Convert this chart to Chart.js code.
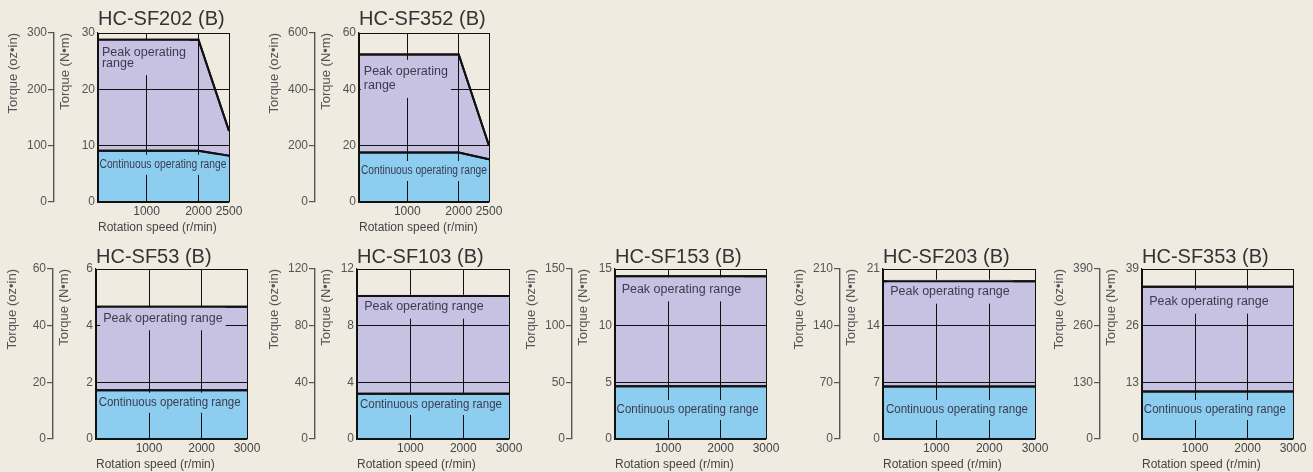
<!DOCTYPE html>
<html>
<head>
<meta charset="utf-8">
<script src="https://cdn.jsdelivr.net/npm/chart.js@4.4.1/dist/chart.umd.min.js"></script>
<style>
  html, body { margin: 0; padding: 0; background: #efebe1; width: 1313px; height: 472px; overflow: hidden; }
  canvas { position: absolute; }
</style>
</head>
<body>
<script>
// speeds (r/min) and x tick labels
const speedsTop = [0, 2000, 2500];
const speedsBottom = [0, 3000];
const xTicksTop = [0, 1000, 2000, 2500];
const xTicksBottom = [0, 1000, 2000, 3000];

// torque curves (N•m), plus the y tick labels of both axes
const sf202Peak = [28.8, 28.8, 12.6];
const sf202Cont = [9.1, 9.1, 8.2];
const sf202Nm = [0, 10, 20, 30];
const sf202Oz = [0, 100, 200, 300];

const sf352Peak = [52.4, 52.4, 20.0];
const sf352Cont = [17.6, 17.6, 15.2];
const sf352Nm = [0, 20, 40, 60];
const sf352Oz = [0, 200, 400, 600];

const sf53Peak = [4.67, 4.67];
const sf53Cont = [1.72, 1.72];
const sf53Nm = [0, 2, 4, 6];
const sf53Oz = [0, 20, 40, 60];

const sf103Peak = [10.1, 10.1];
const sf103Cont = [3.2, 3.2];
const sf103Nm = [0, 4, 8, 12];
const sf103Oz = [0, 40, 80, 120];

const sf153Peak = [14.35, 14.35];
const sf153Cont = [4.66, 4.66];
const sf153Nm = [0, 5, 10, 15];
const sf153Oz = [0, 50, 100, 150];

const sf203Peak = [19.5, 19.5];
const sf203Cont = [6.5, 6.5];
const sf203Nm = [0, 7, 14, 21];
const sf203Oz = [0, 70, 140, 210];

const sf353Peak = [34.9, 34.9];
const sf353Cont = [10.9, 10.9];
const sf353Nm = [0, 13, 26, 39];
const sf353Oz = [0, 130, 260, 390];

const PEAK_FILL = '#c7c2e1';
const CONT_FILL = '#8dcdf0';
const LINE = '#111';
const FONT = "'Liberation Sans', Arial, sans-serif";

// the speed axis in the original is drawn unevenly (last step is squeezed/stretched),
// so map values to the axis through fixed fractions of its width
class PiecewiseScale extends Chart.LinearScale {
  static id = 'piecewise';
  static defaults = Chart.LinearScale.defaults;
  getPixelForValue(value) {
    if (value === null || value === undefined) return NaN;
    const st = this.options.stops;
    let i = 1;
    while (i < st.length - 1 && value > st[i][0]) i++;
    const [v0, f0] = st[i - 1], [v1, f1] = st[i];
    return this.getPixelForDecimal(f0 + (value - v0) / (v1 - v0) * (f1 - f0));
  }
  getValueForPixel(pixel) {
    const st = this.options.stops;
    const f = this.getDecimalForPixel(pixel);
    let i = 1;
    while (i < st.length - 1 && f > st[i][1]) i++;
    const [v0, f0] = st[i - 1], [v1, f1] = st[i];
    return v0 + (f - f0) / (f1 - f0) * (v1 - v0);
  }
}
Chart.register(PiecewiseScale);

Chart.defaults.font.family = FONT;
Chart.defaults.font.size = 12;
Chart.defaults.color = '#555';

const stopsTop = [0, 0.371, 0.767, 1];
const stopsBottom = [0, 0.351, 0.699, 1];

// where each panel sits on the page (plot box + outer axis line)
const panels = [
  { title: 'HC-SF202 (B)', speeds: speedsTop, peak: sf202Peak, cont: sf202Cont, nm: sf202Nm, oz: sf202Oz, xt: xTicksTop, fr: stopsTop,
    box: { l: 98, r: 229, t: 33, b: 202, axis: 54, top: 0, h: 235 },
    peakLabel: { x: 80, y: 26.6, lines: ['Peak operating', 'range'], gap: 11 },
    contLabel: { x: 30, y: 6.6, lines: ['Continuous operating range'], maxW: 127 } },
  { title: 'HC-SF352 (B)', speeds: speedsTop, peak: sf352Peak, cont: sf352Cont, nm: sf352Nm, oz: sf352Oz, xt: xTicksTop, fr: stopsTop,
    box: { l: 359, r: 489, t: 33, b: 202, axis: 315, top: 0, h: 235 },
    peakLabel: { x: 100, y: 46.2, lines: ['Peak operating', 'range'], gap: 14 },
    contLabel: { x: 40, y: 11.0, lines: ['Continuous operating range'], maxW: 126 } },
  { title: 'HC-SF53 (B)', speeds: speedsBottom, peak: sf53Peak, cont: sf53Cont, nm: sf53Nm, oz: sf53Oz, xt: xTicksBottom, fr: stopsBottom,
    box: { l: 96, r: 247, t: 269, b: 439, axis: 53, top: 235, h: 237 },
    peakLabel: { x: 135, y: 4.26, lines: ['Peak operating range'] },
    contLabel: { x: 50, y: 1.28, lines: ['Continuous operating range'], maxW: 142 } },
  { title: 'HC-SF103 (B)', speeds: speedsBottom, peak: sf103Peak, cont: sf103Cont, nm: sf103Nm, oz: sf103Oz, xt: xTicksBottom, fr: stopsBottom,
    box: { l: 357, r: 509, t: 269, b: 439, axis: 315, top: 235, h: 237 },
    peakLabel: { x: 135, y: 9.34, lines: ['Peak operating range'] },
    contLabel: { x: 55, y: 2.4, lines: ['Continuous operating range'], maxW: 142 } },
  { title: 'HC-SF153 (B)', speeds: speedsBottom, peak: sf153Peak, cont: sf153Cont, nm: sf153Nm, oz: sf153Oz, xt: xTicksBottom, fr: stopsBottom,
    box: { l: 615, r: 766, t: 269, b: 439, axis: 572, top: 235, h: 237 },
    peakLabel: { x: 125, y: 13.2, lines: ['Peak operating range'] },
    contLabel: { x: 30, y: 2.56, lines: ['Continuous operating range'], maxW: 142 } },
  { title: 'HC-SF203 (B)', speeds: speedsBottom, peak: sf203Peak, cont: sf203Cont, nm: sf203Nm, oz: sf203Oz, xt: xTicksBottom, fr: stopsBottom,
    box: { l: 883, r: 1035, t: 269, b: 439, axis: 840, top: 235, h: 237 },
    peakLabel: { x: 135, y: 18.2, lines: ['Peak operating range'] },
    contLabel: { x: 55, y: 3.58, lines: ['Continuous operating range'], maxW: 142 } },
  { title: 'HC-SF353 (B)', speeds: speedsBottom, peak: sf353Peak, cont: sf353Cont, nm: sf353Nm, oz: sf353Oz, xt: xTicksBottom, fr: stopsBottom,
    box: { l: 1142, r: 1293, t: 269, b: 439, axis: 1100, top: 235, h: 237 },
    peakLabel: { x: 135, y: 31.5, lines: ['Peak operating range'] },
    contLabel: { x: 35, y: 6.65, lines: ['Continuous operating range'], maxW: 142 } }
];

// range labels sit on a patch of their fill colour, so grid lines stop around them
const rangeLabels = {
  id: 'rangeLabels',
  afterDraw(chart, args, opts) {
    const { ctx, chartArea: a, scales: { x, y } } = chart;
    const p = opts.panel;
    ctx.save();
    ctx.font = '12.5px ' + FONT;
    ctx.textBaseline = 'middle';
    ctx.textAlign = 'left';
    [[p.peakLabel, PEAK_FILL, 6], [p.contLabel, CONT_FILL, 4]].forEach(([lab, fill, pad]) => {
      const px = x.getPixelForValue(lab.x);
      const py = y.getPixelForValue(lab.y);
      const gap = lab.gap || 0;
      const w = Math.max(...lab.lines.map(t => Math.min(ctx.measureText(t).width, lab.maxW || 1e9)));
      const left = Math.max(px - 3, a.left + 1);
      const right = Math.min(px + w + 3, a.right - 1);
      const top = py - 6 - pad;
      const bottom = py + (lab.lines.length - 1) * gap + 6 + pad;
      ctx.fillStyle = fill;
      ctx.fillRect(left, top, right - left, bottom - top);
      ctx.fillStyle = '#3c3b4e';
      lab.lines.forEach((t, i) => {
        if (lab.maxW) ctx.fillText(t, px, py + i * gap, lab.maxW);
        else ctx.fillText(t, px, py + i * gap);
      });
    });
    // put the boundary lines back on top
    ctx.beginPath();
    ctx.rect(a.left, a.top, a.width, a.height);
    ctx.clip();
    chart.getSortedVisibleDatasetMetas().forEach(m => m.dataset.draw(ctx, a));
    ctx.restore();
  }
};

function makePanel(p) {
  const b = p.box;
  const cl = b.axis - 55;
  const canvas = document.createElement('canvas');
  canvas.width = b.r - cl + 16;
  canvas.height = b.h;
  canvas.style.left = cl + 'px';
  canvas.style.top = b.top + 'px';
  document.body.appendChild(canvas);

  const titlePadTop = b.top === 0 ? 7 : 10;
  const titlePadBottom = (b.t - b.top) - titlePadTop - 24;
  const asTicks = arr => s => { s.ticks = arr.map(v => ({ value: v })); };

  new Chart(canvas, {
    type: 'line',
    data: {
      datasets: [
        {
          label: 'Continuous operating range',
          data: p.speeds.map((s, i) => ({ x: s, y: p.cont[i] })),
          borderColor: LINE, borderWidth: 2, backgroundColor: CONT_FILL,
          fill: 'origin', pointRadius: 0, tension: 0
        },
        {
          label: 'Peak operating range',
          data: p.speeds.map((s, i) => ({ x: s, y: p.peak[i] })),
          borderColor: LINE, borderWidth: 2, backgroundColor: PEAK_FILL,
          fill: '-1', pointRadius: 0, tension: 0
        }
      ]
    },
    options: {
      responsive: false,
      animation: false,
      events: [],
      layout: { padding: { left: 0, top: 0, right: 16, bottom: 0 } },
      plugins: {
        legend: { display: false },
        tooltip: { enabled: false },
        title: {
          display: true, text: p.title, align: 'start', fullSize: false,
          color: '#333', font: { size: 20, weight: 'normal' },
          padding: { top: titlePadTop, bottom: titlePadBottom }
        },
        rangeLabels: { panel: p }
      },
      scales: {
        x: {
          type: 'piecewise', min: 0, max: p.xt[p.xt.length - 1],
          stops: p.xt.map((v, i) => [v, p.fr[i]]),
          afterBuildTicks: asTicks(p.xt),
          afterFit: s => { s.height = b.top + b.h - b.b; },
          grid: { color: LINE, lineWidth: 1, drawTicks: false, z: 1 },
          border: { color: LINE, width: 1.2, z: 1 },
          ticks: { padding: 2, color: '#444', maxRotation: 0, autoSkip: false,
                   callback: v => v === 0 ? '' : String(v) },
          title: { display: true, text: 'Rotation speed (r/min)', align: 'start', color: '#444',
                   padding: { top: 0, bottom: 0 } }
        },
        y: {
          type: 'linear', position: 'left', weight: 0, min: 0, max: p.nm[p.nm.length - 1],
          afterBuildTicks: asTicks(p.nm),
          afterFit: s => { s.width = b.l - b.axis; },
          grid: { color: LINE, lineWidth: 1, drawTicks: false, z: 1 },
          border: { color: LINE, width: 1.2, z: 1 },
          ticks: { padding: 3, callback: v => String(v) },
          title: { display: true, text: 'Torque (N•m)', align: 'end', font: { size: 13 },
                   padding: { top: 4, bottom: 0 } }
        },
        y2: {
          type: 'linear', position: 'left', weight: 1, min: 0, max: p.oz[p.oz.length - 1],
          afterBuildTicks: asTicks(p.oz),
          afterFit: s => { s.width = 55; },
          grid: { drawOnChartArea: false, drawTicks: true, tickLength: 6, color: '#555', lineWidth: 1.2 },
          border: { color: '#555', width: 1.4 },
          ticks: { padding: 1, callback: v => String(v) },
          title: { display: true, text: 'Torque (oz•in)', align: 'end', font: { size: 13 },
                   padding: { top: 7, bottom: 0 } }
        }
      }
    },
    plugins: [rangeLabels]
  });
}

panels.forEach(makePanel);
</script>
</body>
</html>
